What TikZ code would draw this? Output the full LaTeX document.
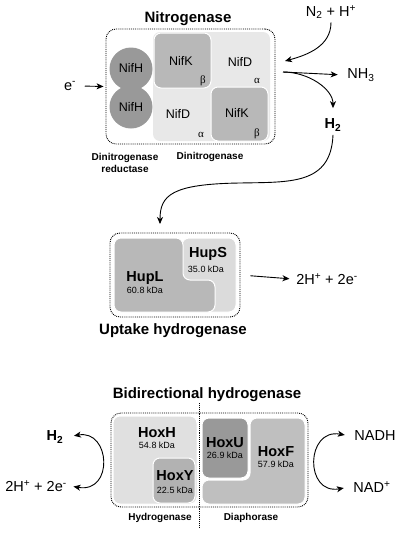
\documentclass[tikz,border=0pt]{standalone}
\usepackage{fontspec}
\setmainfont{Liberation Sans}
\newfontfamily\greekfont{Liberation Serif}
\usetikzlibrary{arrows.meta,positioning}

\colorlet{nifhgray}{black!40}
\colorlet{nifkgray}{black!28}
\colorlet{nifdgray}{black!9}
\colorlet{hupsgray}{black!14}
\colorlet{huplgray}{black!28}
\colorlet{hoxhgray}{black!12}
\colorlet{hoxygray}{black!30}
\colorlet{hoxugray}{black!40}
\colorlet{hoxfgray}{black!25}

\begin{document}
\begin{tikzpicture}[x=1pt,y=-1pt,>={Stealth[length=7pt,width=6pt,inset=2pt]},line width=0.9pt]
        \tikzstyle{dotbox}=[draw,densely dotted,rounded corners=10pt,inner sep=0pt]
        \tikzstyle{title}=[font=\bfseries\fontsize{15}{17}\selectfont]
        \tikzstyle{part}=[font=\bfseries\fontsize{10}{12}\selectfont,align=center]
        \tikzstyle{chem}=[font=\fontsize{14.5}{17}\selectfont]
        \tikzstyle{nif}=[font=\fontsize{12.5}{15}\selectfont]
        \tikzstyle{greek}=[font=\greekfont\fontsize{11}{13}\selectfont]
        \tikzstyle{sub}=[font=\bfseries\fontsize{14.5}{17}\selectfont]
        \tikzstyle{kda}=[font=\fontsize{9}{11}\selectfont]
        \tikzstyle{unit}=[rounded corners=7pt,draw=white,line width=1pt]

        \useasboundingbox (0,0) rectangle (400,533);

        \begin{scope}
          \node[title] (nitrotitle) at (188,19) {Nitrogenase};
          \node[dotbox,minimum width=169pt,minimum height=115pt] (nitro) at (190.5,86.5) {};

          \fill[nifdgray,rounded corners=7pt] (153,32) rectangle (270,141);
          \filldraw[nifkgray,unit] (154,33) rectangle (211,88);
          \filldraw[nifkgray,unit] (211,87) rectangle (268,141);
          \fill[nifhgray] (131,69) circle (21.5pt);
          \fill[nifhgray] (131,107) circle (21.5pt);

          \node[nif]   (nifh1) at (131,68)  {NifH};
          \node[nif]   (nifh2) at (131,107) {NifH};
          \node[nif]   (nifk1) at (181,61)  {NifK};
          \node[greek] (beta1) at (203,81)  {β};
          \node[nif]   (nifd1) at (240,62)  {NifD};
          \node[greek] (alp1)  at (257,81)  {α};
          \node[nif]   (nifd2) at (178,114) {NifD};
          \node[greek] (alp2)  at (201,135) {α};
          \node[nif]   (nifk2) at (237,113) {NifK};
          \node[greek] (beta2) at (257,134) {β};

          \node[part] (reductase) at (125,163) {Dinitrogenase\\reductase};
          \node[part] (dinitro)   at (210,157) {Dinitrogenase};

          \node[chem] (elec)  at (70,86)   {e\textsuperscript{-}};
          \node[chem] (n2)    at (331,12)  {N\textsubscript{2} + H\textsuperscript{+}};
          \node[chem] (nh3)   at (361,75)  {NH\textsubscript{3}};
          \node[sub]  (h2top) at (333,125) {H\textsubscript{2}};
          \coordinate (nin)  at (285,61);
          \coordinate (nout) at (283,72);
          \coordinate (upin) at (160,224);

          \draw[->,shorten <=5pt,shorten >=2pt] (elec.east) -- (nitro.west);
          \draw[->] (n2.south) to[out=-90,in=15] (nin);
          \draw[->,shorten >=6pt] (nout) -- (nh3.west);
          \draw[->,shorten >=7pt] (nout) to[out=0,in=90] (h2top.north);
          \draw[->] (h2top.south) .. controls (331,185) and (290,182) .. (240,183)
                                  .. controls (172,184) and (160,195) .. (upin);
        \end{scope}

        \begin{scope}
          \node[dotbox,minimum width=130pt,minimum height=84pt] (uptake) at (175,275) {};
          \filldraw[hupsgray,unit] (182,238) rectangle (236,312);
          \filldraw[huplgray,unit] (114,238) -- (183,238) -- (183,280) -- (215,280)
                                   -- (215,312) -- (114,312) -- cycle;

          \node[sub] (hups)     at (208,254) {HupS};
          \node[kda] (hupsmass) at (206,269) {35.0 kDa};
          \node[sub] (hupl)     at (145,278) {HupL};
          \node[kda] (huplmass) at (145,290) {60.8 kDa};
          \node[title] (uptitle) at (173,331) {Uptake hydrogenase};

          \node[chem] (upprod) at (327,279) {2H\textsuperscript{+} + 2e\textsuperscript{-}};
          \draw[->,shorten <=10pt,shorten >=3pt] (uptake.east) -- (upprod.west);
        \end{scope}

        \begin{scope}
          \node[title] (bititle) at (207,395) {Bidirectional hydrogenase};
          \node[dotbox,minimum width=197pt,minimum height=94pt] (bidir) at (209.5,460) {};
          \draw[densely dotted] (199,403) -- (199,527);

          \filldraw[hoxhgray,unit] (113,416) rectangle (197,504);
          \filldraw[hoxygray,unit] (153,458) rectangle (195,503);
          \filldraw[hoxfgray,unit] (250,418) -- (305,418) -- (305,504) -- (202,504)
                                   -- (202,480) -- (250,480) -- cycle;
          \filldraw[hoxugray,unit] (202,418) rectangle (248,478);

          \node[sub] (hoxh)     at (157,433) {HoxH};
          \node[kda] (hoxhmass) at (157,445) {54.8 kDa};
          \node[sub] (hoxy)     at (175,476) {HoxY};
          \node[kda] (hoxymass) at (175,490) {22.5 kDa};
          \node[sub] (hoxu)     at (225,443) {HoxU};
          \node[kda] (hoxumass) at (225,455) {26.9 kDa};
          \node[sub] (hoxf)     at (276,452) {HoxF};
          \node[kda] (hoxfmass) at (276,464) {57.9 kDa};

          \node[part] (hydlabel) at (160,518) {Hydrogenase};
          \node[part] (dialabel) at (251,518) {Diaphorase};

          \node[sub]  (h2left) at (55,437)  {H\textsubscript{2}};
          \node[chem] (hleft)  at (36,486)  {2H\textsuperscript{+} + 2e\textsuperscript{-}};
          \node[chem] (nadh)   at (375,436) {NADH};
          \node[chem] (nadp)   at (372,487) {NAD\textsuperscript{+}};

          \draw[<->,shorten <=7pt,shorten >=3pt] (h2left.east) to[out=10,in=-10,looseness=2.3] (hleft.east);
          \draw[<->,shorten <=6pt,shorten >=6pt] (nadh.west) to[out=170,in=190,looseness=2.3] (nadp.west);
        \end{scope}
\end{tikzpicture}
\end{document}
